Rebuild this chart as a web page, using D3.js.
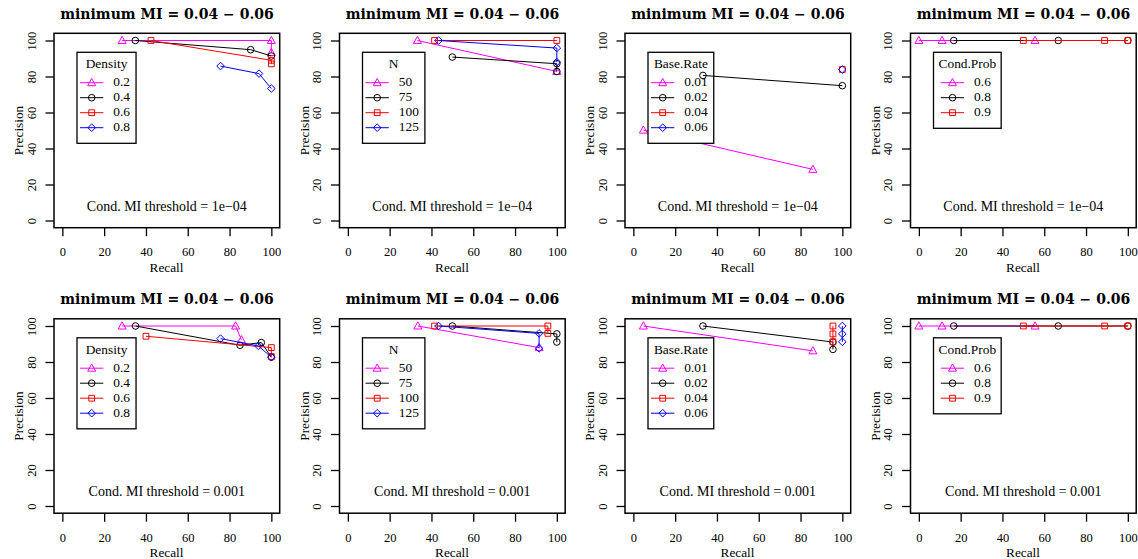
<!DOCTYPE html>
<html>
<head>
<meta charset="utf-8">
<script src="https://cdn.jsdelivr.net/npm/d3@7"></script>
<style>
  body { margin: 0; background: #fff; }
  svg { display: block; }
  text { font-family: "Liberation Serif", "DejaVu Serif", serif; fill: #000; }
</style>
</head>
<body>
<svg id="chart" width="1138" height="559"></svg>
<script>
// ---- data ----
const titleText = "minimum MI = 0.04 \u2212 0.06"
const thresholds = ["1e\u221204", "0.001"]
const factorNames = ["Density", "N", "Base.Rate", "Cond.Prob"]

const densityLevels = ["0.2", "0.4", "0.6", "0.8"]
const nLevels = ["50", "75", "100", "125"]
const baseRateLevels = ["0.01", "0.02", "0.04", "0.06"]
const condProbLevels = ["0.6", "0.8", "0.9"]

const xTicks = [0, 20, 40, 60, 80, 100]
const yTicks = [0, 20, 40, 60, 80, 100]

// threshold 1e-04 (top row)
const densityRecallA = [[28.6, 100, 100], [34.9, 90.1, 100], [42.4, 100, 100], [75.7, 94.1, 100]]
const densityPrecA = [[100, 100, 93.3], [100, 94.9, 91.4], [100, 89, 87], [85.8, 81.6, 73.3]]
const nRecallA = [[33.3, 100], [50, 100, 100], [41.5, 100], [43.4, 100, 100]]
const nPrecA = [[100, 82.8], [90.8, 87.1, 82.8], [100, 100], [100, 95.8, 88]]
const baseRateRecallA = [[4.8, 85.9], [33.3, 100], [100], [100]]
const baseRatePrecA = [[50.2, 28.4], [80.6, 74.9], [83.9], [83.9]]
const condProbRecallA = [[0, 11.1, 55.6], [16.7, 66.7, 100], [50, 88.9, 100]]
const condProbPrecA = [[100, 100, 100], [100, 100, 100], [100, 100, 100]]

// threshold 0.001 (bottom row)
const densityRecallB = [[28.6, 82.9, 85.7], [35, 85, 95.2, 100], [40, 100, 100], [75.7, 93.8, 100]]
const densityPrecB = [[100, 100, 92.3], [100, 89.3, 90.8, 82.7], [94.3, 88, 83], [93, 88.9, 82.7]]
const nRecallB = [[33.5, 91.5], [50, 100, 100], [41.5, 95.7, 95.7], [43.4, 91.5, 91.5]]
const nPrecB = [[100, 88], [100, 95.6, 91.1], [100, 100, 95.9], [100, 95.9, 87.6]]
const baseRateRecallB = [[4.8, 85.9], [33.3, 95.5, 95.5], [95.5, 95.5, 95.5], [100, 100, 100]]
const baseRatePrecB = [[100, 86.2], [100, 91.1, 87], [100, 95.6, 91.2], [100, 95.6, 91.2]]
const condProbRecallB = [[0, 11.1, 55.6], [16.7, 66.7, 100], [50, 88.9, 100]]
const condProbPrecB = [[100, 100, 100], [100, 100, 100], [100, 100, 100]]

const levelsByCol = [densityLevels, nLevels, baseRateLevels, condProbLevels]
const recallGrid = [
  [densityRecallA, nRecallA, baseRateRecallA, condProbRecallA],
  [densityRecallB, nRecallB, baseRateRecallB, condProbRecallB]
]
const precGrid = [
  [densityPrecA, nPrecA, baseRatePrecA, condProbPrecA],
  [densityPrecB, nPrecB, baseRatePrecB, condProbPrecB]
]

// ---- styles ----
const colors = ["#ff00ff", "#000000", "#ff0000", "#0000ff"]
const shapes = ["triangle", "circle", "square", "diamond"]
const pitch = 285.5

function markerPath(shape) {
  if (shape === "circle") {
    const r = 3.3
    return `M${-r},0A${r},${r} 0 1,0 ${r},0A${r},${r} 0 1,0 ${-r},0Z`
  }
  if (shape === "square") {
    const s = 2.9
    return `M${-s},${-s}H${s}V${s}H${-s}Z`
  }
  if (shape === "diamond") {
    const s = 3.8
    return `M0,${-s}L${s},0L0,${s}L${-s},0Z`
  }
  // triangle, pch 2
  const h = 3.6
  return `M0,${-h - 0.6}L${h + 0.4},${h - 0.6}L${-h - 0.4},${h - 0.6}Z`
}

const svg = d3.select("#chart")

const x = d3.scaleLinear().domain([-4, 104]).range([54, 279.7])
const y = d3.scaleLinear().domain([-4, 104]).range([227.7, 33.3])
const line = d3.line().x(d => x(d[0])).y(d => y(d[1]))

function drawSeries(g, pts, i) {
  g.append("path")
    .attr("d", line(pts))
    .attr("fill", "none")
    .attr("stroke", colors[i])
    .attr("stroke-width", 1)
  g.selectAll(null)
    .data(pts)
    .enter()
    .append("path")
    .attr("transform", d => `translate(${x(d[0])},${y(d[1])})`)
    .attr("d", markerPath(shapes[i]))
    .attr("fill", "none")
    .attr("stroke", colors[i])
    .attr("stroke-width", 1)
}

function drawLegend(g, title, levels) {
  const lg = g.append("g")
  const legTitle = lg.append("text")
    .style("font-size", "13.4px")
    .attr("text-anchor", "middle")
    .attr("y", 68)
    .text(title)
  const entryTexts = levels.map((lev, i) =>
    lg.append("text")
      .style("font-size", "13.4px")
      .attr("y", 86 + i * 15)
      .text(lev))
  const textW = d3.max(entryTexts, t => t.node().getComputedTextLength())
  const titleW = legTitle.node().getComputedTextLength()
  const contentW = 36.3 + textW + 6
  const boxW = Math.max(contentW, titleW + 10)
  const left = 77
  const shift = left + (boxW - contentW) / 2
  const boxH = 31 + levels.length * 15
  lg.insert("rect", ":first-child")
    .attr("x", left).attr("y", 52.3)
    .attr("width", boxW).attr("height", boxH)
    .attr("fill", "#fff").attr("stroke", "#000").attr("stroke-width", 1.3)
  legTitle.attr("x", left + boxW / 2)
  entryTexts.forEach(t => t.attr("x", shift + 36.3))
  levels.forEach((lev, i) => {
    const cy = 82.7 + i * 15
    lg.append("line")
      .attr("x1", shift + 3).attr("x2", shift + 26.3)
      .attr("y1", cy).attr("y2", cy)
      .attr("stroke", colors[i]).attr("stroke-width", 1)
    lg.append("path")
      .attr("transform", `translate(${shift + 14.7},${cy})`)
      .attr("d", markerPath(shapes[i]))
      .attr("fill", "none")
      .attr("stroke", colors[i])
      .attr("stroke-width", 1)
  })
}

for (let row = 0; row < 2; row++) {
  for (let col = 0; col < 4; col++) {
    const g = svg.append("g")
      .attr("transform", `translate(${col * pitch},${row * pitch})`)

    const levels = levelsByCol[col]
    const recalls = recallGrid[row][col]
    const precs = precGrid[row][col]

    // title
    g.append("text")
      .attr("x", 167).attr("y", 18.5)
      .attr("text-anchor", "middle")
      .style("font-family", "'DejaVu Serif', serif")
      .style("font-weight", "bold")
      .style("font-size", "14px")
      .text(titleText)

    // axes
    const xa = g.append("g")
      .attr("transform", "translate(0,227.7)")
      .call(d3.axisBottom(x).tickValues(xTicks).tickSize(8.5).tickFormat(d3.format("d")))
    xa.select(".domain").remove()
    xa.selectAll("line").attr("stroke-width", 1.3)
    xa.selectAll("text")
      .attr("y", 28.8).attr("dy", 0)
      .style("font-family", "'Liberation Serif', serif")
      .style("font-size", "12.5px")

    const ya = g.append("g")
      .attr("transform", "translate(54,0)")
      .call(d3.axisLeft(y).tickValues(yTicks).tickSize(8.5).tickFormat(d3.format("d")))
    ya.select(".domain").remove()
    ya.selectAll("line").attr("stroke-width", 1.3)
    ya.selectAll("text")
      .attr("transform", "rotate(-90)")
      .attr("x", 0).attr("y", -18.3).attr("dy", 0)
      .attr("text-anchor", "middle")
      .style("font-family", "'Liberation Serif', serif")
      .style("font-size", "12.5px")

    // axis labels
    g.append("text")
      .attr("x", 166.5).attr("y", 271.5)
      .attr("text-anchor", "middle")
      .style("font-size", "13.3px")
      .text("Recall")
    g.append("text")
      .attr("transform", "translate(23,130.5) rotate(-90)")
      .attr("text-anchor", "middle")
      .style("font-size", "13.3px")
      .text("Precision")

    // plot box
    g.append("rect")
      .attr("x", x(-4)).attr("y", y(104))
      .attr("width", x(104) - x(-4)).attr("height", y(-4) - y(104))
      .attr("fill", "none").attr("stroke", "#000").attr("stroke-width", 1.5)

    // threshold note
    g.append("text")
      .attr("x", x(50)).attr("y", 210.5)
      .attr("text-anchor", "middle")
      .style("font-size", "14px")
      .text("Cond. MI threshold = " + thresholds[row])

    // first series, then the legend, then the remaining series on top
    levels.forEach((lev, i) => {
      const pts = recalls[i].map((r, k) => [r, precs[i][k]])
      drawSeries(g, pts, i)
      if (i === 0) drawLegend(g, factorNames[col], levels)
    })
  }
}
</script>
</body>
</html>
